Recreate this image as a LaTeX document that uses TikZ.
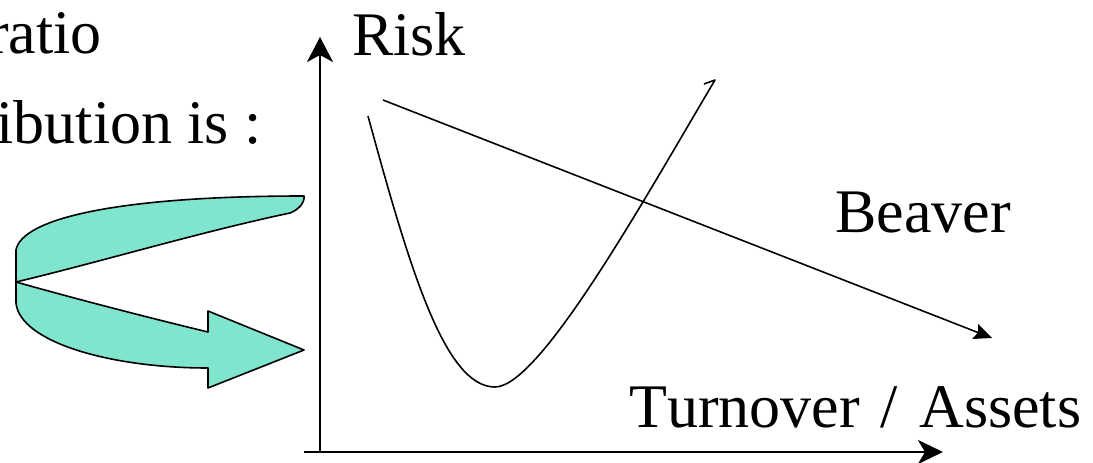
\documentclass[tikz,border=0pt]{standalone}
\usepackage{fontspec}
\setmainfont[Kerning=Off]{Liberation Serif}
\usetikzlibrary{arrows.meta}
\definecolor{aquafill}{RGB}{128,229,207}
\begin{document}
\begin{tikzpicture}[x=1pt,y=-1pt,
  lbl/.style={inner sep=0pt,anchor=base west,font=\fontsize{62}{74}\selectfont},
  lblr/.style={inner sep=0pt,anchor=base east,font=\fontsize{62}{74}\selectfont},
  axisline/.style={line width=2.6pt,-{Stealth[length=25pt,width=26pt,inset=7pt]}},
  thinline/.style={line width=1.6pt},
  bandshape/.style={fill=aquafill,draw=black,line width=1.6pt,line join=round}]
\useasboundingbox (0,0) rectangle (1093,463);
\clip (0,0) rectangle (1093,463);
% texts
\node[lblr] (t1) at (102,53) {ratio};
\node[lblr] (t2) at (262,143) {ibution is :};
\node[lbl] (risk) at (352,55) {Risk};
\node[lbl] (beaver) at (835,232) {Beaver};
\node[lbl] (turn) at (629,427) {Turnover\hspace{0.34em}/\hspace{0.34em}Assets};
% axes
\coordinate (o) at (320,453);
\coordinate (yend) at (320,37);
\coordinate (xstart) at (304,452);
\coordinate (xend) at (943,452);
\draw[axisline] (o) -- (yend);
\draw[axisline,-{Stealth[length=25pt,width=24pt,inset=7pt]}] (xstart) -- (xend);
% Beaver line
\coordinate (b1) at (383,100);
\coordinate (b2) at (992,338);
\draw[thinline,-{Stealth[length=18pt,width=16pt,inset=3pt]}] (b1) -- (b2);
% U curve
\coordinate (u0) at (368,116);
\coordinate (umin) at (495,387);
\coordinate (u1) at (715,80);
\coordinate (uh) at (704,84);
\draw[thinline,line join=round] (u0) .. controls (410,270) and (445,387) .. (umin)
  .. controls (540,387) and (645,198) .. (u1) -- (uh);
% curved arrow
\coordinate (p0) at (16,282);
\draw[bandshape] (p0) -- (16,250) .. controls (22,218) and (120,196) .. (304,196)
  .. controls (305,203) and (298,210) .. (290,213)
  .. controls (200,232) and (100,262) .. cycle;
\draw[bandshape] (p0) .. controls (80,300) and (150,318) .. (208,332) -- (208,311) -- (304,350)
  -- (208,388) -- (208,368) .. controls (110,368) and (20,342) .. (16,303) -- cycle;
\end{tikzpicture}
\end{document}
